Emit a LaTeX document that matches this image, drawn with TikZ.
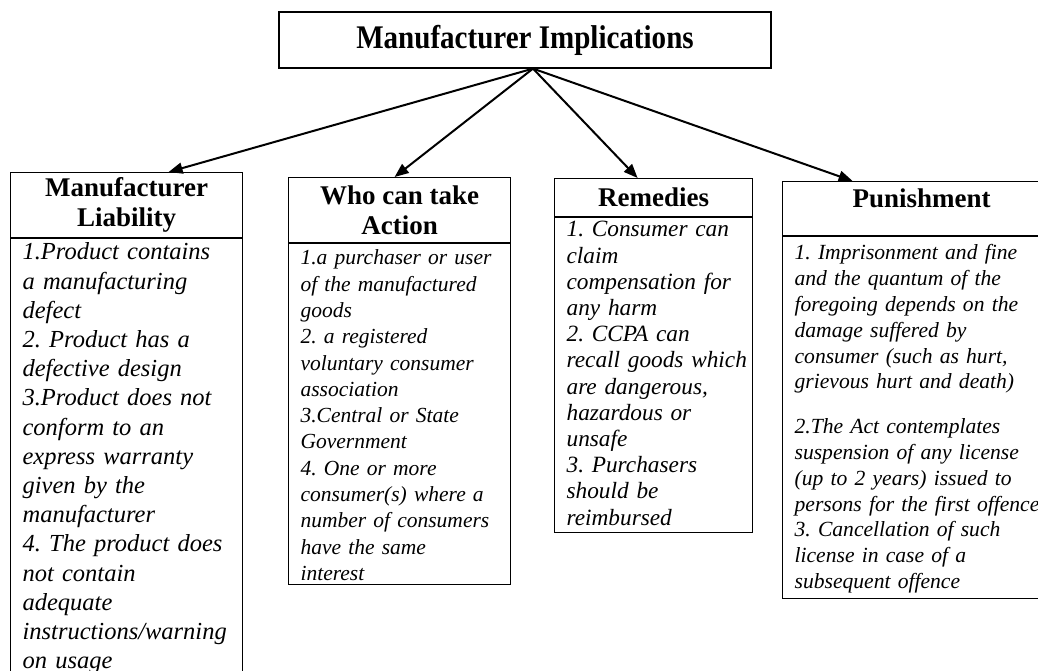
\documentclass[tikz,border=0pt]{standalone}
\usepackage{fontspec}
\setmainfont{Liberation Serif}
\usetikzlibrary{arrows.meta}
\frenchspacing

\begin{document}
\begin{tikzpicture}[x=1pt, y=-1pt,
	heading/.style={draw, line width=1.2pt, anchor=north west, align=center,
				    inner sep=0pt, font=\bfseries\fontsize{27}{30}\selectfont},
	items/.style={draw, line width=1.2pt, anchor=north west, align=left,
				  inner xsep=12pt, inner ysep=0pt},
	arr/.style={line width=2pt, -{Triangle[length=14pt, width=11pt]}}]
	\useasboundingbox (0,0) rectangle (1038,670);

	\node[draw, line width=1.2pt, minimum width=492pt, minimum height=56pt, inner sep=0pt,
		  font=\bfseries\fontsize{33}{38}\selectfont] (impl) at (525,40)
		  {\scalebox{0.88}[1]{Manufacturer Implications}};
	\coordinate (apex) at ([xshift=8pt]impl.south);

	% headings
	\node[heading, minimum width=232pt, minimum height=65pt] (h1) at (10,172) {Manufacturer\\Liability};
	\node[heading, minimum width=222pt, minimum height=65pt] (h2) at (288,177) {Who can take\\Action};
	\node[heading, minimum width=198pt, minimum height=38pt] (h3) at (554,178) {Remedies};
	\node[heading, minimum width=278pt, minimum height=54pt, text depth=20pt] (h4) at (782,181) {Punishment};

	% lists
	\node[items, text width=208pt, text height=21pt, text depth=432pt,
		  font=\itshape\fontsize{24.5}{29.2}\selectfont] (b1) at (h1.south west)
		  {1.Product contains\\a manufacturing\\defect\\2. Product has a\\defective design\\
		   3.Product does not\\conform to an\\express warranty\\given by the\\manufacturer\\
		   4. The product does\\not contain\\adequate\\instructions/warning\\on usage};
	\node[items, text width=198pt, text height=21pt, text depth=320pt,
		  font=\itshape\fontsize{21.5}{26.3}\selectfont] (b2) at (h2.south west)
		  {1.a purchaser or user\\of the manufactured\\goods\\2. a registered\\voluntary consumer\\
		   association\\3.Central or State\\Government\\4. One or more\\consumer(s) where a\\
		   number of consumers\\have the same\\interest};
	\node[items, text width=174pt, text height=19pt, text depth=296pt,
		  font=\itshape\fontsize{23.3}{26.2}\selectfont] (b3) at (h3.south west)
		  {1. Consumer can\\claim\\compensation for\\any harm\\2. CCPA can\\\mbox{recall goods which}\\
		   are dangerous,\\hazardous or\\unsafe\\3. Purchasers\\should be\\reimbursed};
	\node[items, text width=254pt, text height=23pt, text depth=339pt,
		  font=\itshape\fontsize{21.6}{25.8}\selectfont] (b4) at (h4.south west)
		  {1. Imprisonment and fine\\and the quantum of the\\foregoing depends on the\\
		   damage suffered by\\consumer (such as hurt,\\grievous hurt and death)\\[19pt]
		   2.The Act contemplates\\suspension of any license\\(up to 2 years) issued to\\
		   persons for the first offence\\3. Cancellation of such\\license in case of a\\
		   subsequent offence};

	\path[arr] (apex) edge ([xshift=42pt]h1.north);
	\path[arr] (apex) edge ([xshift=-5pt]h2.north);
	\path[arr] (apex) edge ([xshift=-16pt]h3.north);
	\path[arr] (apex) edge ([xshift=-69pt]h4.north);

\end{tikzpicture}
\end{document}
